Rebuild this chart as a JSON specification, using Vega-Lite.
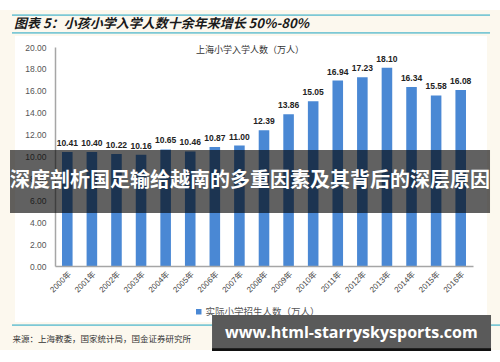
{
  "$schema": "https://vega.github.io/schema/vega-lite/v6.json",
  "autosize": "none",
  "width": 418,
  "height": 219,
  "padding": {"left": 55, "top": 47, "right": 27, "bottom": 96},
  "background": "white",
  "data": {
    "values": [
      {"year": "2000年", "value": 10.41},
      {"year": "2001年", "value": 10.40},
      {"year": "2002年", "value": 10.22},
      {"year": "2003年", "value": 10.16},
      {"year": "2004年", "value": 10.65},
      {"year": "2005年", "value": 10.46},
      {"year": "2006年", "value": 10.87},
      {"year": "2007年", "value": 11.00},
      {"year": "2008年", "value": 12.39},
      {"year": "2009年", "value": 13.86},
      {"year": "2010年", "value": 15.05},
      {"year": "2011年", "value": 16.94},
      {"year": "2012年", "value": 17.23},
      {"year": "2013年", "value": 18.10},
      {"year": "2014年", "value": 16.34},
      {"year": "2015年", "value": 15.58},
      {"year": "2016年", "value": 16.08}
    ]
  },
  "encoding": {
    "x": {
      "field": "year",
      "type": "nominal",
      "sort": null,
      "scale": {
        "domain": ["2000年", "2001年", "2002年", "2003年", "2004年", "2005年", "2006年", "2007年", "2008年", "2009年", "2010年", "2011年", "2012年", "2013年", "2014年", "2015年", "2016年"],
        "paddingInner": 0.57,
        "paddingOuter": 0.285
      },
      "axis": {
        "zindex": 1,
        "labelAngle": -45,
        "labelFont": "Liberation Sans, Noto Sans CJK SC",
        "labelFontSize": 8,
        "labelColor": "#444444",
        "ticks": false,
        "labelPadding": 4,
        "domainColor": "#a6a6a6",
        "domainWidth": 1.5,
        "title": "来源：上海教委，国家统计局，国金证券研究所",
        "titleX": -43,
        "titleY": 72,
        "titleAlign": "left",
        "titleBaseline": "middle",
        "titleFont": "Noto Sans CJK SC",
        "titleFontSize": 8.5,
        "titleFontWeight": "normal",
        "titleColor": "#333333"
      }
    },
    "y": {
      "type": "quantitative",
      "scale": {"domain": [0, 20], "nice": false, "zero": true},
      "axis": {
        "zindex": 0,
        "values": [0, 2, 4, 6, 8, 10, 12, 14, 16, 18, 20],
        "format": ".2f",
        "grid": false,
        "ticks": false,
        "labelPadding": 9,
        "labelFont": "Liberation Sans",
        "labelFontSize": 8.5,
        "labelColor": "#555555",
        "domainColor": "#a6a6a6",
        "domainWidth": 1.5,
        "title": null
      }
    }
  },
  "layer": [
    {
      "data": {"values": [{}]},
      "mark": {"type": "rect", "fill": "#fcf8ee", "xOffset": -62, "x2Offset": 44.6},
      "encoding": {
        "x": {"datum": "2000年", "bandPosition": 0}, "x2": {"datum": "2016年", "bandPosition": 0},
        "y": {"datum": 23.38}, "y2": {"datum": 21.0}
      }
    },
    {
      "data": {"values": [{}]},
      "mark": {"type": "rect", "fill": "#fcf8ee", "xOffset": -62, "x2Offset": 44.6},
      "encoding": {
        "x": {"datum": "2000年", "bandPosition": 0}, "x2": {"datum": "2016年", "bandPosition": 0},
        "y": {"datum": -5.11}, "y2": {"datum": -7.67}
      }
    },
    {
      "data": {"values": [{}]},
      "mark": {"type": "rect", "fill": "#fcf8ee", "xOffset": -62, "x2Offset": -47},
      "encoding": {
        "x": {"datum": "2000年", "bandPosition": 0}, "x2": {"datum": "2000年", "bandPosition": 0},
        "y": {"datum": 21.0}, "y2": {"datum": -5.11}
      }
    },
    {
      "data": {"values": [{}]},
      "mark": {"type": "rect", "fill": "#fcf8ee", "xOffset": 31.6, "x2Offset": 44.6},
      "encoding": {
        "x": {"datum": "2016年", "bandPosition": 0}, "x2": {"datum": "2016年", "bandPosition": 0},
        "y": {"datum": 21.0}, "y2": {"datum": -5.11}
      }
    },
    {
      "data": {"values": [{}]},
      "mark": {"type": "rect", "fill": "#7cc8d5", "xOffset": -50, "x2Offset": 34.6},
      "encoding": {
        "x": {"datum": "2000年", "bandPosition": 0}, "x2": {"datum": "2016年", "bandPosition": 0},
        "y": {"datum": 23.0}, "y2": {"datum": 22.84}
      }
    },
    {
      "data": {"values": [{}]},
      "mark": {"type": "rect", "fill": "#7cc8d5", "xOffset": -50, "x2Offset": 34.6},
      "encoding": {
        "x": {"datum": "2000年", "bandPosition": 0}, "x2": {"datum": "2016年", "bandPosition": 0},
        "y": {"datum": 21.36}, "y2": {"datum": 21.2}
      }
    },
    {
      "data": {"values": [{}]},
      "mark": {"type": "rect", "fill": "#7cc8d5", "xOffset": -50, "x2Offset": 44.6},
      "encoding": {
        "x": {"datum": "2000年", "bandPosition": 0}, "x2": {"datum": "2016年", "bandPosition": 0},
        "y": {"datum": -5.31}, "y2": {"datum": -5.47}
      }
    },
    {
      "data": {"values": [{}]},
      "mark": {"type": "text", "align": "left", "baseline": "middle", "dx": -48, "font": "Noto Sans CJK SC", "fontSize": 13, "fontWeight": "bold", "fontStyle": "italic", "color": "#1a1a1a"},
      "encoding": {
        "x": {"datum": "2000年", "bandPosition": 0},
        "y": {"datum": 22.1},
        "text": {"value": "图表 5：小孩小学入学人数十余年来增长 50%-80%"}
      }
    },
    {
      "mark": {"type": "bar"},
      "encoding": {
        "y": {"field": "value"},
        "color": {
          "datum": "实际小学招生人数（万人）",
          "type": "nominal",
          "scale": {"range": ["#4a88d4"]},
          "legend": {
            "orient": "none",
            "legendX": 139,
            "legendY": 260,
            "title": null,
            "padding": 0,
            "symbolType": "square",
            "symbolSize": 30,
            "labelFont": "Noto Sans CJK SC",
            "labelFontSize": 9.5,
            "labelColor": "#555555",
            "labelOffset": 2
          }
        }
      }
    },
    {
      "mark": {"type": "text", "baseline": "bottom", "dy": -4, "font": "Liberation Sans", "fontSize": 8.5, "fontWeight": "bold", "color": "#222222"},
      "encoding": {
        "y": {"field": "value"},
        "text": {"field": "value", "type": "quantitative", "format": ".2f"}
      }
    },
    {
      "data": {"values": [{}]},
      "mark": {"type": "text", "dx": -14, "font": "Noto Sans CJK SC", "fontSize": 9, "color": "#333333", "baseline": "middle"},
      "encoding": {
        "x": {"datum": "2008年", "bandPosition": 0.5},
        "y": {"datum": 19.73},
        "text": {"value": "上海小学入学人数（万人）"}
      }
    },
    {
      "data": {"values": [{}]},
      "mark": {"type": "rect", "fill": "#000000", "fillOpacity": 0.62, "xOffset": -52, "x2Offset": 34.6},
      "encoding": {
        "x": {"datum": "2000年", "bandPosition": 0}, "x2": {"datum": "2016年", "bandPosition": 0},
        "y": {"datum": 10.59}, "y2": {"datum": 4.84}
      }
    },
    {
      "data": {"values": [{}]},
      "mark": {"type": "text", "dx": -14, "font": "Noto Sans CJK SC", "fontSize": 20, "fontWeight": "bold", "color": "#ffffff", "baseline": "middle"},
      "encoding": {
        "x": {"datum": "2008年", "bandPosition": 0.5},
        "y": {"datum": 7.76},
        "text": {"value": "深度剖析国足输给越南的多重因素及其背后的深层原因"}
      }
    },
    {
      "data": {"values": [{}]},
      "mark": {"type": "rect", "fill": "#5a5a5a", "xOffset": 2.5, "x2Offset": 35.6},
      "encoding": {
        "x": {"datum": "2006年", "bandPosition": 0}, "x2": {"datum": "2016年", "bandPosition": 0},
        "y": {"datum": -4.47}, "y2": {"datum": -7.76}
      }
    },
    {
      "data": {"values": [{}]},
      "mark": {"type": "rect", "fill": "#111111", "xOffset": 2.5, "x2Offset": 35.6},
      "encoding": {
        "x": {"datum": "2006年", "bandPosition": 0}, "x2": {"datum": "2016年", "bandPosition": 0},
        "y": {"datum": -7.5}, "y2": {"datum": -7.76}
      }
    },
    {
      "data": {"values": [{}]},
      "mark": {"type": "text", "dx": -11, "font": "Open Sans", "fontSize": 16, "fontWeight": "bold", "color": "#ffffff", "baseline": "middle"},
      "encoding": {
        "x": {"datum": "2012年", "bandPosition": 0.5},
        "y": {"datum": -6.12},
        "text": {"value": "www.html-starryskysports.com"}
      }
    }
  ],
  "config": {"view": {"stroke": null}}
}
